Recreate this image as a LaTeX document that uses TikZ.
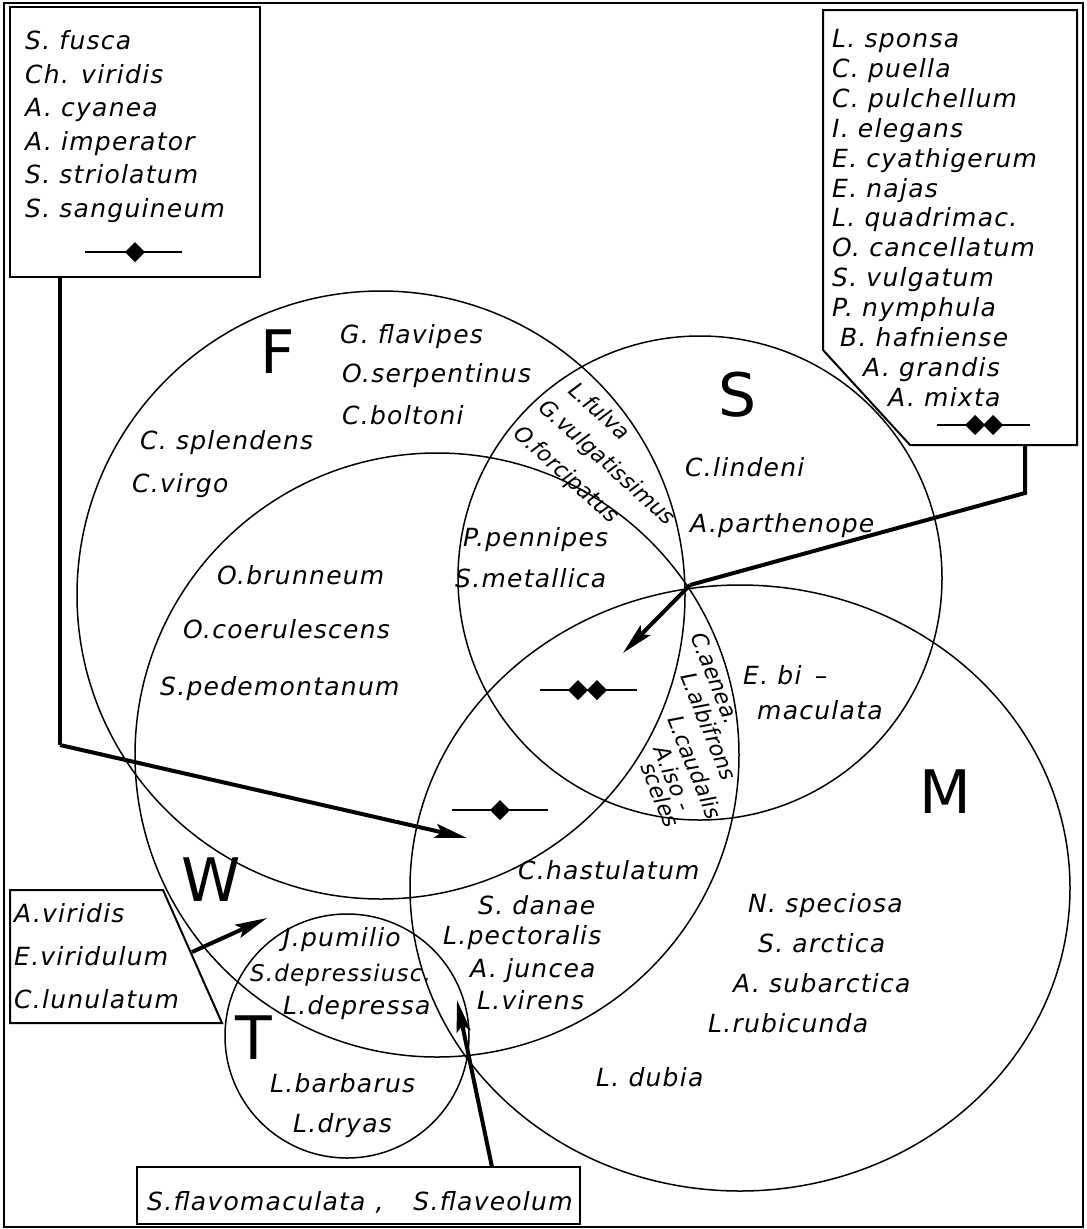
\documentclass[tikz,border=0pt]{standalone}
\usepackage{fontspec}
\setmainfont{DejaVu Sans}[LetterSpace=5]
\newfontfamily\condfont{DejaVu Sans}
\usetikzlibrary{arrows.meta}
\newcommand\mkdia[2]{\fill (#1,#2) +(-10,0) -- +(0,-10) -- +(10,0) -- +(0,10) -- cycle;}
\begin{document}
\begin{tikzpicture}[x=1pt,y=-1pt,
  lbl/.style={font=\fontsize{25}{30}\selectfont\itshape, inner sep=0pt, anchor=base west},
  rlbl/.style={font=\fontsize{22}{26}\condfont\itshape, inner sep=0pt, anchor=base west},
  big/.style={font=\fontsize{60}{60}\selectfont, inner sep=0pt, anchor=center},
  circ/.style={line width=1.5pt},
  boxl/.style={line width=2pt},
  conn/.style={line width=4pt},
  arr/.style={line width=4pt, -{Stealth[length=32pt,width=14pt,inset=6pt]}},
  mk/.style={line width=2.5pt}
]
\useasboundingbox (0,0) rectangle (1087,1229);
\fill[white] (0,0) rectangle (1087,1229);
\draw[line width=1.5pt] (4,3) rectangle (1083,1227);

% circles
\draw[circ] (381,595) circle (304);   % F
\draw[circ] (437,755) circle (302);   % W
\draw[circ] (700,578) circle (242);   % S
\draw[circ] (740,888) ellipse (330 and 303); % M
\draw[circ] (347,1036) circle (122);  % T

% big letters
\node[big] (lF) at (278,352) {F};
\node[big] (lS) at (738,395) {S};
\node[big] (lM) at (945,792) {M};
\node[big] (lW) at (211,880) {W};
\node[big] (lT) at (254,1038) {T};

% top-left box
\draw[boxl] (10,7) rectangle (260,277);
\node[lbl] (a1) at (25,49) {S. fusca};
\node[lbl] (a2) at (25,83) {Ch. viridis};
\node[lbl] (a3) at (25,116) {A. cyanea};
\node[lbl] (a4) at (25,150) {A. imperator};
\node[lbl] (a5) at (25,183) {S. striolatum};
\node[lbl] (a6) at (25,217) {S. sanguineum};
\draw[mk] (85,252) -- (182,252);
\mkdia{135}{252}
\coordinate (tlb) at (60,277);
\coordinate (tlk) at (60,745);
\coordinate (tlt) at (467,838);
\draw[conn] (tlb) -- (tlk);
\draw[arr] (tlk) -- (tlt);

% top-right box
\draw[boxl] (823,10) -- (1077,10) -- (1077,445) -- (910,445) -- (823,350) -- cycle;
\node[lbl] (b1) at (832,47) {L. sponsa};
\node[lbl] (b2) at (832,77) {C. puella};
\node[lbl] (b3) at (832,107) {C. pulchellum};
\node[lbl] (b4) at (832,137) {I. elegans};
\node[lbl] (b5) at (832,167) {E. cyathigerum};
\node[lbl] (b6) at (832,197) {E. najas};
\node[lbl] (b7) at (832,226) {L. quadrimac.};
\node[lbl] (b8) at (832,256) {O. cancellatum};
\node[lbl] (b9) at (832,286) {S. vulgatum};
\node[lbl] (b10) at (832,316) {P. nymphula};
\node[lbl] (b11) at (840,346) {B. hafniense};
\node[lbl] (b12) at (863,376) {A. grandis};
\node[lbl] (b13) at (888,406) {A. mixta};
\draw[mk] (937,425) -- (1030,425);
\mkdia{975}{425}
\mkdia{993}{425}
\coordinate (trb) at (1025,445);
\coordinate (trk) at (1025,493);
\coordinate (hub) at (690,585);
\coordinate (trt) at (623,653);
\draw[conn] (trb) -- (trk) -- (hub);
\draw[arr] (hub) -- (trt);

% lower-left box
\draw[boxl] (10,890) -- (163,890) -- (222,1023) -- (10,1023) -- cycle;
\node[lbl] (c1) at (14,922) {A.viridis};
\node[lbl] (c2) at (14,965) {E.viridulum};
\node[lbl] (c3) at (14,1008) {C.lunulatum};
\coordinate (llb) at (192,952);
\coordinate (llt) at (267,918);
\draw[arr] (llb) -- (llt);

% bottom box
\draw[boxl] (137,1167) rectangle (580,1224);
\node[lbl] (d1) at (147,1210) {S.flavomaculata\hspace{0.4em},\hspace{1.2em}S.flaveolum};
\coordinate (bbt) at (492,1167);
\coordinate (bbh) at (457,1000);
\draw[arr] (bbt) -- (bbh);

% F region
\node[lbl] (f1) at (340,343) {G. flavipes};
\node[lbl] (f2) at (342,382) {O.serpentinus};
\node[lbl] (f3) at (342,424) {C.boltoni};
\node[lbl] (f4) at (140,449) {C. splendens};
\node[lbl] (f5) at (132,492) {C.virgo};
\node[rlbl, rotate=-42] (g1) at (567,392) {L.fulva};
\node[rlbl, rotate=-42] (g2) at (537,409) {G.vulgatissimus};
\node[rlbl, rotate=-42] (g3) at (512,435) {O.forcipatus};
\node[lbl] (s1) at (685,476) {C.lindeni};
\node[lbl] (s2) at (690,532) {A.parthenope};
\node[lbl] (p1) at (463,546) {P.pennipes};
\node[lbl] (p2) at (455,587) {S.metallica};
\node[lbl] (w1) at (217,584) {O.brunneum};
\node[lbl] (w2) at (183,638) {O.coerulescens};
\node[lbl] (w3) at (160,695) {S.pedemontanum};
\draw[mk] (540,690) -- (637,690);
\mkdia{578}{690}
\mkdia{597}{690}
\draw[mk] (452,810) -- (548,810);
\mkdia{500}{810}

% lens
\node[rlbl, rotate=-68] (e1) at (690,636) {C.aenea.};
\node[rlbl, rotate=-68] (e2) at (680,676) {L.albifrons};
\node[rlbl, rotate=-68] (e3) at (667,719) {L.caudalis};
\node[rlbl, rotate=-68] (e4) at (653,749) {A.iso -};
\node[rlbl, rotate=-68] (e5) at (640,766) {sceles};
\node[lbl] (h1) at (743,684) {E. bi\, –};
\node[lbl] (h2) at (757,719) {maculata};

% W/M
\node[lbl] (m1) at (518,879) {C.hastulatum};
\node[lbl] (m2) at (478,914) {S. danae};
\node[lbl] (m3) at (443,944) {L.pectoralis};
\node[lbl] (m4) at (470,977) {A. juncea};
\node[lbl] (m5) at (477,1009) {L.virens};
\node[lbl] (t1) at (283,946) {J.pumilio};
\node[lbl, font=\fontsize{23}{28}\selectfont\itshape] (t2) at (250,981) {S.depressiusc.};
\node[lbl] (t3) at (283,1014) {L.depressa};
\node[lbl] (t4) at (270,1092) {L.barbarus};
\node[lbl] (t5) at (293,1132) {L.dryas};
\node[lbl] (n1) at (748,912) {N. speciosa};
\node[lbl] (n2) at (758,952) {S. arctica};
\node[lbl] (n3) at (733,992) {A. subarctica};
\node[lbl] (n4) at (708,1032) {L.rubicunda};
\node[lbl] (n5) at (596,1086) {L. dubia};
\end{tikzpicture}
\end{document}
